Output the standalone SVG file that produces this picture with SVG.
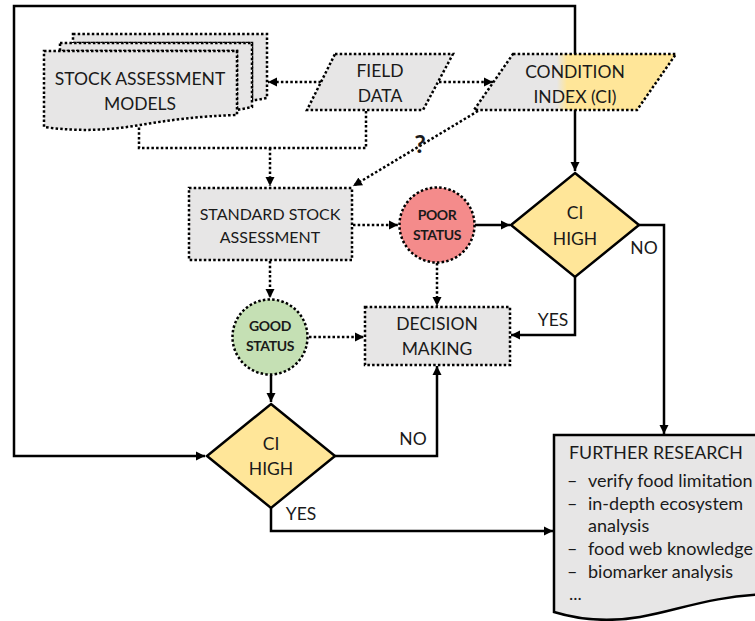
<svg xmlns="http://www.w3.org/2000/svg" width="755" height="621" viewBox="0 0 755 621">
<style>
text{font-family:Lato,"Noto Sans","Liberation Sans",sans-serif;fill:#1a1a1a;text-anchor:middle}
.dot{fill:#e7e6e6;stroke:#000;stroke-width:2.5;stroke-dasharray:2.5 2.2}
.sol{stroke:#000;stroke-width:2.5;fill:none}
.dl{stroke:#000;stroke-width:2.5;stroke-dasharray:2.5 2.2;fill:none}
.lbl{font-size:17.5px}
.b{font-size:14px;font-weight:bold;letter-spacing:-0.4px}
.lst{text-anchor:start;font-size:18px}
</style>
<defs>
<marker id="ah" markerUnits="userSpaceOnUse" markerWidth="10" markerHeight="10" refX="9" refY="5" orient="auto" viewBox="0 0 10 10">
<path d="M0,0.5 L9,5 L0,9.5 z" fill="#000"/>
</marker>
<linearGradient id="ciGrad" gradientUnits="userSpaceOnUse" x1="474" y1="0" x2="676" y2="0">
<stop offset="0" stop-color="#e7e6e6"/>
<stop offset="0.41" stop-color="#e7e6e6"/>
<stop offset="0.46" stop-color="#ffe699"/>
<stop offset="1" stop-color="#ffe699"/>
</linearGradient>
</defs>
<g id="connectors">
<path class="sol" d="M575,54 V6 H14 V456 H205" marker-end="url(#ah)"/>
<path class="sol" d="M575,110 V171" marker-end="url(#ah)"/>
<path class="dl" d="M321,82 H268" marker-end="url(#ah)"/>
<path class="dl" d="M439,82 H493" marker-end="url(#ah)"/>
<path class="dl" d="M366,111 V148 H139 V127"/>
<path class="dl" d="M270,148 V186" marker-end="url(#ah)"/>
<path class="dl" d="M478,111 L353,186" marker-end="url(#ah)"/>
<path class="dl" d="M353,225 H398" marker-end="url(#ah)"/>
<path class="dl" d="M270,261 V298" marker-end="url(#ah)"/>
<path class="dl" d="M437,263 V306" marker-end="url(#ah)"/>
<path class="sol" d="M475,225 H510" marker-end="url(#ah)"/>
<path class="dl" d="M309,337 H364" marker-end="url(#ah)"/>
<path class="sol" d="M271,375 V402" marker-end="url(#ah)"/>
<path class="sol" d="M639,225 H664 V434" marker-end="url(#ah)"/>
<path class="sol" d="M575,277 V335 H511" marker-end="url(#ah)"/>
<path class="sol" d="M335,456 H437 V366" marker-end="url(#ah)"/>
<path class="sol" d="M271,508 V531 H553" marker-end="url(#ah)"/>
<text x="420" y="153" style="font-size:25px;font-weight:bold">?</text>
<text x="644" y="254" class="lbl">NO</text>
<text x="553" y="326" class="lbl">YES</text>
<text x="413" y="445" class="lbl">NO</text>
<text x="301" y="520" class="lbl">YES</text>
</g>
<g id="stock-assessment-models">
<path class="dot" d="M73,34 H267 V98 C262,99 257,100 252,100 V43 H73 Z"/>
<path class="dot" d="M60,43 H252 V107 C247,108 242,109 237,110 V51 H60 Z"/>
<path class="dot" d="M44,51 H237 V115 C200,116 170,120 140,125 C110,130 80,132 44,127 Z"/>
<text x="140" y="85" class="lbl">STOCK ASSESSMENT</text>
<text x="140" y="110" class="lbl">MODELS</text>
</g>
<g id="field-data">
<path class="dot" d="M335,54 H453 L423,110 H307 Z"/>
<text x="380" y="77" class="lbl">FIELD</text>
<text x="380" y="102" class="lbl">DATA</text>
</g>
<g id="condition-index">
<path class="dot" style="fill:url(#ciGrad)" d="M513,54 H676 L637,110 H474 Z"/>
<text x="575" y="78" class="lbl">CONDITION</text>
<text x="575" y="103" class="lbl">INDEX (CI)</text>
</g>
<g id="standard-stock-assessment">
<rect class="dot" x="189" y="188" width="163" height="72"/>
<text x="270" y="220" class="lbl" style="font-size:16px">STANDARD STOCK</text>
<text x="270" y="243" class="lbl" style="font-size:16px">ASSESSMENT</text>
</g>
<g id="poor-status">
<circle class="dot" style="fill:#f48b8b" cx="437" cy="225" r="37.5"/>
<text x="437" y="220" class="b">POOR</text>
<text x="437" y="240" class="b">STATUS</text>
</g>
<g id="ci-high-1">
<path class="sol" style="fill:#ffe699" d="M575,173 L639,225 L575,277 L511,225 Z"/>
<text x="575" y="219" class="lbl">CI</text>
<text x="575" y="245" class="lbl">HIGH</text>
</g>
<g id="decision-making">
<rect class="dot" x="365" y="307" width="145" height="58"/>
<text x="437" y="330" class="lbl">DECISION</text>
<text x="437" y="355" class="lbl">MAKING</text>
</g>
<g id="good-status">
<circle class="dot" style="fill:#c5e0b4" cx="270" cy="337" r="37.5"/>
<text x="270" y="331" class="b">GOOD</text>
<text x="270" y="351" class="b">STATUS</text>
</g>
<g id="ci-high-2">
<path class="sol" style="fill:#ffe699" d="M271,404 L335,456 L271,508 L207,456 Z"/>
<text x="271" y="450" class="lbl">CI</text>
<text x="271" y="475" class="lbl">HIGH</text>
</g>
<g id="further-research">
<path class="sol" style="fill:#e7e6e6" d="M554,435 H770 V594 C710,596 680,610 640,617 C610,622 580,620 554,612 Z"/>
<text x="569" y="459" class="lst" style="font-size:17.8px">FURTHER RESEARCH</text>
<text x="567" y="487" class="lst">–</text><text x="588" y="487" class="lst">verify food limitation</text>
<text x="567" y="510" class="lst">–</text><text x="588" y="510" class="lst">in-depth ecosystem</text>
<text x="588" y="532" class="lst">analysis</text>
<text x="567" y="555" class="lst">–</text><text x="588" y="555" class="lst">food web knowledge</text>
<text x="567" y="578" class="lst">–</text><text x="588" y="578" class="lst">biomarker analysis</text>
<text x="569" y="600" class="lst">...</text>
</g>
</svg>
